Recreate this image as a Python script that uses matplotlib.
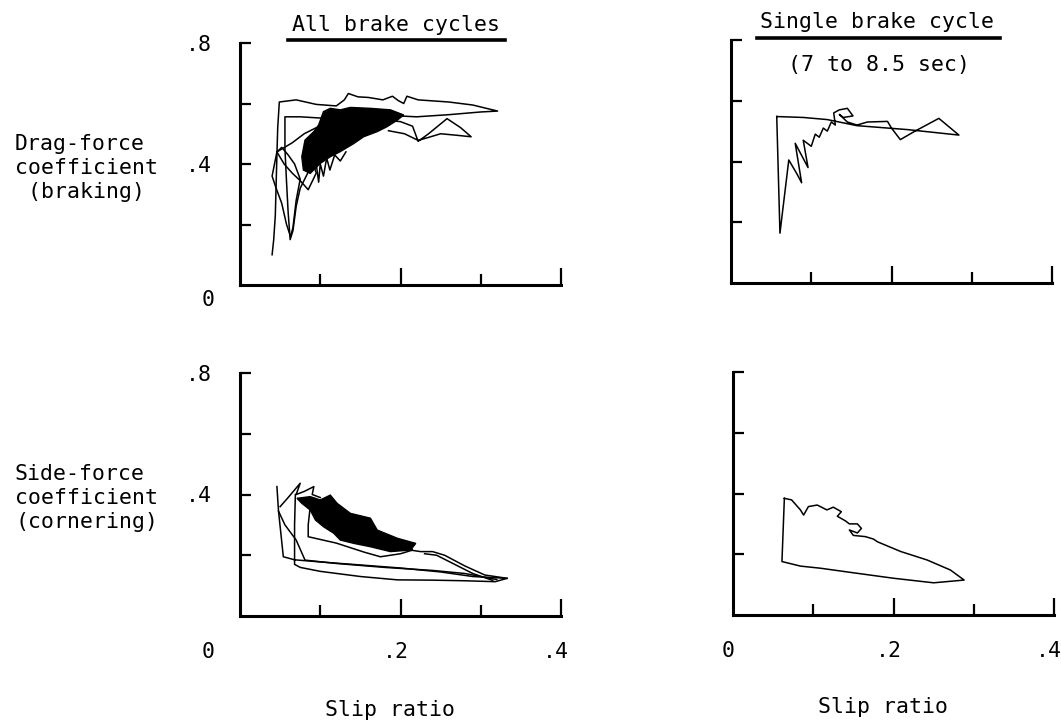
"""
Drag-force and side-force coefficient against slip ratio,
all brake cycles vs. a single brake cycle (7 to 8.5 sec).
"""
import matplotlib
matplotlib.use("Agg")
import matplotlib.pyplot as plt
from matplotlib.lines import Line2D
from matplotlib.transforms import offset_copy

plt.rcParams['font.family'] = ['DejaVu Sans Mono', 'DejaVu Sans']
FS = 15.5

# ---- drag force, all brake cycles (traces) ----
tl_x1 = [0.040, 0.042, 0.044, 0.045, 0.046, 0.047, 0.049, 0.070, 0.095, 0.120,
         0.130, 0.135, 0.147, 0.160, 0.178, 0.190, 0.197, 0.204, 0.208, 0.222,
         0.260, 0.290, 0.321, 0.300, 0.260, 0.220, 0.190, 0.160]
tl_y1 = [0.100, 0.150, 0.230, 0.330, 0.430, 0.520, 0.605, 0.612, 0.597, 0.592,
         0.612, 0.633, 0.622, 0.620, 0.612, 0.624, 0.610, 0.600, 0.624, 0.612,
         0.605, 0.595, 0.575, 0.572, 0.563, 0.556, 0.560, 0.565]
tl_x2 = [0.090, 0.075, 0.070, 0.066, 0.0625, 0.060, 0.058, 0.056, 0.056, 0.075,
         0.100, 0.130, 0.170, 0.200, 0.215, 0.222, 0.235, 0.258, 0.275, 0.288,
         0.270, 0.250, 0.235, 0.222, 0.205, 0.185]
tl_y2 = [0.400, 0.320, 0.260, 0.180, 0.150, 0.240, 0.340, 0.450, 0.556, 0.556,
         0.552, 0.550, 0.548, 0.540, 0.525, 0.475, 0.500, 0.550, 0.520, 0.490,
         0.495, 0.500, 0.488, 0.478, 0.500, 0.510]
tl_x3 = [0.046, 0.040, 0.045, 0.052, 0.058, 0.063, 0.066, 0.070, 0.075, 0.068,
         0.060, 0.052, 0.046, 0.055, 0.065, 0.075, 0.085, 0.095, 0.090, 0.100]
tl_y3 = [0.440, 0.360, 0.320, 0.270, 0.200, 0.160, 0.190, 0.280, 0.350, 0.400,
         0.430, 0.455, 0.440, 0.400, 0.370, 0.345, 0.315, 0.370, 0.410, 0.400]
tl_x4 = [0.046, 0.065, 0.080, 0.095]
tl_y4 = [0.440, 0.470, 0.500, 0.520]
tl_x5 = [0.095, 0.098, 0.100, 0.104, 0.108, 0.112, 0.118, 0.125, 0.132]
tl_y5 = [0.400, 0.340, 0.400, 0.360, 0.420, 0.380, 0.430, 0.410, 0.440]
# dense overlapping region
tl_blob_x = [0.077, 0.081, 0.092, 0.098, 0.104, 0.1125, 0.125, 0.1375, 0.1625, 0.1875,
             0.204, 0.196, 0.183, 0.171, 0.154, 0.142, 0.125, 0.1125, 0.100, 0.0875, 0.079]
tl_blob_y = [0.424, 0.479, 0.507, 0.529, 0.573, 0.584, 0.579, 0.587, 0.584, 0.579,
             0.562, 0.545, 0.523, 0.507, 0.490, 0.468, 0.441, 0.424, 0.402, 0.369, 0.380]

# ---- drag force, single brake cycle ----
tr_x = [0.057, 0.061, 0.072, 0.082, 0.088, 0.080, 0.092, 0.096, 0.090, 0.100,
        0.105, 0.110, 0.115, 0.120, 0.125, 0.130, 0.128, 0.135, 0.145, 0.152,
        0.140, 0.135, 0.145, 0.157, 0.170, 0.195, 0.200, 0.211, 0.228, 0.259,
        0.284, 0.220, 0.157, 0.120, 0.090, 0.057]
tr_y = [0.548, 0.164, 0.405, 0.360, 0.330, 0.460, 0.400, 0.380, 0.470, 0.450,
        0.490, 0.480, 0.510, 0.500, 0.530, 0.520, 0.560, 0.570, 0.575, 0.550,
        0.545, 0.555, 0.530, 0.520, 0.530, 0.532, 0.510, 0.472, 0.498, 0.542,
        0.487, 0.505, 0.518, 0.538, 0.545, 0.548]

# ---- side force, all brake cycles ----
bl_x1 = [0.046, 0.048, 0.054, 0.068, 0.100, 0.150, 0.200, 0.250, 0.290, 0.333,
         0.318, 0.280, 0.240, 0.196, 0.150, 0.100, 0.075, 0.068, 0.068, 0.069]
bl_y1 = [0.426, 0.345, 0.195, 0.185, 0.178, 0.168, 0.158, 0.145, 0.130, 0.124,
         0.113, 0.116, 0.118, 0.119, 0.130, 0.147, 0.160, 0.170, 0.300, 0.400]
bl_x2 = [0.048, 0.056, 0.070, 0.081, 0.120, 0.180, 0.240, 0.280, 0.310, 0.320]
bl_y2 = [0.345, 0.300, 0.250, 0.184, 0.173, 0.160, 0.150, 0.140, 0.125, 0.120]
bl_x3 = [0.333, 0.305, 0.280, 0.255, 0.240, 0.225, 0.210]
bl_y3 = [0.124, 0.135, 0.165, 0.200, 0.212, 0.212, 0.218]
bl_x4 = [0.315, 0.290, 0.260, 0.245, 0.230]
bl_y4 = [0.117, 0.140, 0.180, 0.200, 0.205]
bl_x5 = [0.0875, 0.085, 0.085, 0.120, 0.155, 0.175, 0.200, 0.215, 0.2125]
bl_y5 = [0.360, 0.300, 0.261, 0.240, 0.210, 0.195, 0.205, 0.217, 0.230]
bl_x6 = [0.050, 0.060, 0.075, 0.070, 0.080, 0.092, 0.090, 0.100]
bl_y6 = [0.360, 0.390, 0.437, 0.400, 0.410, 0.426, 0.400, 0.390]
bl_blob_x = [0.071, 0.0875, 0.100, 0.1125, 0.121, 0.1375, 0.1625, 0.171, 0.196, 0.219,
             0.2125, 0.1875, 0.1625, 0.142, 0.125, 0.117, 0.104, 0.094, 0.0875, 0.077]
bl_blob_y = [0.3875, 0.393, 0.382, 0.398, 0.371, 0.338, 0.322, 0.283, 0.256, 0.239,
             0.217, 0.212, 0.228, 0.239, 0.250, 0.272, 0.294, 0.316, 0.349, 0.371]

# ---- side force, single brake cycle ----
br_x = [0.064, 0.073, 0.084, 0.088, 0.094, 0.105, 0.117, 0.125, 0.135, 0.130,
        0.140, 0.145, 0.155, 0.160, 0.155, 0.145, 0.150, 0.165, 0.175, 0.180,
        0.209, 0.242, 0.271, 0.288, 0.250, 0.200, 0.150, 0.109, 0.084, 0.061, 0.064]
br_y = [0.384, 0.379, 0.346, 0.329, 0.357, 0.362, 0.346, 0.355, 0.340, 0.325,
        0.310, 0.300, 0.300, 0.285, 0.270, 0.280, 0.262, 0.258, 0.250, 0.241,
        0.209, 0.181, 0.148, 0.115, 0.106, 0.121, 0.139, 0.154, 0.161, 0.176, 0.384]

x_tick_vals = [0.2, 0.4]
x_tick_labels = ['.2', '.4']
y_tick_vals = [0.4, 0.8]
y_tick_labels = ['.4', '.8']

W, H = 1061, 725
fig = plt.figure(figsize=(W / 100, H / 100), dpi=100)

def px_axes(x0, ytop, ybot, w=321):
    return fig.add_axes([x0 / W, 1 - ybot / H, w / W, (ybot - ytop) / H])

ax_tl = px_axes(240, 43, 285)
ax_tr = px_axes(731, 40, 283)
ax_bl = px_axes(240, 373, 616)
ax_br = px_axes(733, 372, 615)

def style(ax, ylab, xlab):
    ax.set_xlim(0, 0.4)
    ax.set_ylim(0, 0.8)
    for s in ('top', 'right'):
        ax.spines[s].set_visible(False)
    for s in ('left', 'bottom'):
        ax.spines[s].set_linewidth(2.2)
    ax.set_xticks(x_tick_vals)
    ax.set_xticks([0.1, 0.3], minor=True)
    ax.set_yticks(y_tick_vals)
    ax.set_yticks([0.2, 0.6], minor=True)
    ax.set_xticklabels([])
    ax.set_yticklabels(y_tick_labels if ylab else [], fontsize=FS)
    ax.tick_params(axis='x', which='major', direction='in', length=12, width=1.6)
    ax.tick_params(axis='x', which='minor', direction='in', length=8, width=1.6)
    ax.tick_params(axis='y', which='both', direction='in', length=8, width=1.6, pad=20)
    if xlab:
        trans = offset_copy(ax.get_xaxis_transform(), fig=fig, x=-5, y=0, units='dots')
        for v, lab in zip(x_tick_vals, x_tick_labels):
            ax.text(v, -0.148, lab, transform=trans, ha='center', va='center', fontsize=FS)

kw = dict(color='black', lw=1.1)

for xs, ys in [(tl_x1, tl_y1), (tl_x2, tl_y2), (tl_x3, tl_y3), (tl_x4, tl_y4), (tl_x5, tl_y5)]:
    ax_tl.plot(xs, ys, **kw)
ax_tl.fill(tl_blob_x, tl_blob_y, color='black', lw=1)

ax_tr.plot(tr_x, tr_y, **kw)

for xs, ys in [(bl_x1, bl_y1), (bl_x2, bl_y2), (bl_x3, bl_y3), (bl_x4, bl_y4),
               (bl_x5, bl_y5), (bl_x6, bl_y6)]:
    ax_bl.plot(xs, ys, **kw)
ax_bl.fill(bl_blob_x, bl_blob_y, color='black', lw=1)

ax_br.plot(br_x, br_y, **kw)

style(ax_tl, True, False)
style(ax_tr, False, False)
style(ax_bl, True, True)
style(ax_br, False, True)

# corner zeros
ax_tl.text(-0.10, -0.06, '0', transform=ax_tl.transAxes, ha='center', va='center', fontsize=FS)
ax_bl.text(-0.10, -0.148, '0', transform=ax_bl.transAxes, ha='center', va='center', fontsize=FS)
ax_br.text(-0.016, -0.148, '0', transform=ax_br.transAxes, ha='center', va='center', fontsize=FS)

# headings with underline
fig.text(396 / W, 1 - 25 / H, 'All brake cycles', ha='center', va='center', fontsize=FS)
fig.add_artist(Line2D([288 / W, 505 / W], [1 - 40 / H, 1 - 40 / H], color='black', lw=2.6))
fig.text(877 / W, 1 - 22 / H, 'Single brake cycle', ha='center', va='center', fontsize=FS)
fig.add_artist(Line2D([757 / W, 1000 / W], [1 - 38 / H, 1 - 38 / H], color='black', lw=2.6))
fig.text(879 / W, 1 - 65 / H, '(7 to 8.5 sec)', ha='center', va='center', fontsize=FS)

# row labels
fig.text(15 / W, 1 - 168 / H, 'Drag-force\ncoefficient\n (braking)', ha='left', va='center',
         fontsize=FS, linespacing=1.25)
fig.text(15 / W, 1 - 498 / H, 'Side-force\ncoefficient\n(cornering)', ha='left', va='center',
         fontsize=FS, linespacing=1.25)

fig.text(390 / W, 1 - 710 / H, 'Slip ratio', ha='center', va='center', fontsize=FS)
fig.text(883 / W, 1 - 707 / H, 'Slip ratio', ha='center', va='center', fontsize=FS)

fig.savefig("out.png", dpi=100)
